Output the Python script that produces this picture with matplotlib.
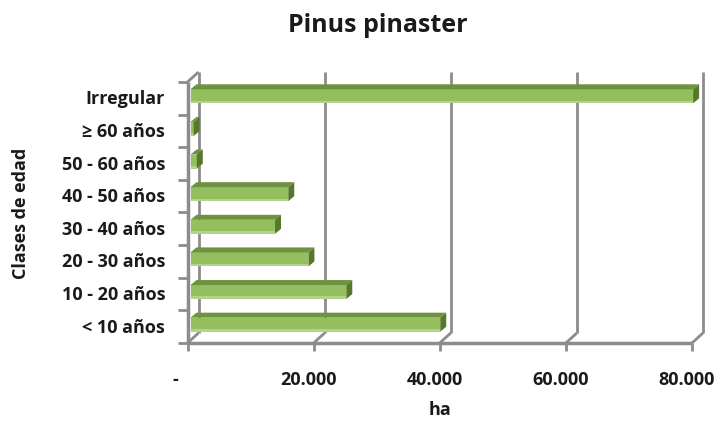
import matplotlib
matplotlib.use("Agg")
import matplotlib.pyplot as plt
from matplotlib.patches import Polygon
from matplotlib.transforms import ScaledTranslation

# age classes, bottom to top
clases = ["< 10 años", "10 - 20 años", "20 - 30 años", "30 - 40 años",
          "40 - 50 años", "50 - 60 años", "≥ 60 años", "Irregular"]
superficie = [39600, 24700, 18700, 13400, 15500, 1000, 500, 79700]
xticks = [0, 20000, 40000, 60000, 80000]
xticklabels = ["-", "20.000", "40.000", "60.000", "80.000"]

FACE = "#93bf5f"
TOP = "#6f9240"
SIDE = "#56782a"
GRID = "#8c8c8c"
INK = "#1a1a1a"
DPI = 100

plt.rcParams["font.family"] = ["Open Sans", "DejaVu Sans"]
plt.rcParams["font.weight"] = "bold"

fig = plt.figure(figsize=(7.21, 4.36), dpi=DPI)
# axes box = back wall of the pseudo-3D plot
ax = fig.add_axes([198.5 / 721, 103 / 436, 504.5 / 721, 261 / 436])
ax.set_xlim(0, 80000)
ax.set_ylim(-0.5, len(clases) - 0.5)
for s in ax.spines.values():
    s.set_visible(False)
ax.set_facecolor("none")


def shift(dx, dy):
    return ax.transData + ScaledTranslation(dx / DPI, dy / DPI, fig.dpi_scale_trans)


front = shift(-11, -10)   # front plane (axis lines, ticks)
bars_tr = shift(-8, -8)   # front face of the bars

y0, y1 = -0.5, len(clases) - 0.5

# back wall gridlines
for x in xticks:
    ax.plot([x, x], [y0, y1], color=GRID, lw=2, zorder=1,
            solid_capstyle="butt", clip_on=False)

# pixel -> data conversions for the depth effects
px_x = ax.transData.transform((1, 0))[0] - ax.transData.transform((0, 0))[0]
px_y = ax.transData.transform((0, 1))[1] - ax.transData.transform((0, 0))[1]
ddx, ddy = 6 / px_x, 5 / px_y
h = 0.43

ypos = list(range(len(clases)))
bars = ax.barh(ypos, superficie, height=h, color=FACE, transform=bars_tr,
               zorder=3, linewidth=0)
for b in bars:
    b.set_clip_on(False)
# light band at the bottom of each bar face
band = ax.barh([y - h / 2 + 0.04 for y in ypos], superficie, height=0.08,
               color="#b3d38c", transform=bars_tr, zorder=3, linewidth=0)
for b in band:
    b.set_clip_on(False)
for y, v in zip(ypos, superficie):
    top = y + h / 2
    bot = y - h / 2
    ax.add_patch(Polygon([(0, top), (v, top), (v + ddx, top + ddy), (ddx, top + ddy)],
                         closed=True, color=TOP, transform=bars_tr, zorder=3,
                         lw=0, clip_on=False))
    ax.add_patch(Polygon([(v, bot), (v + ddx, bot + ddy), (v + ddx, top + ddy), (v, top)],
                         closed=True, color=SIDE, transform=bars_tr, zorder=4,
                         lw=0, clip_on=False))

# front axis lines and ticks
line_kw = dict(color=GRID, transform=front, zorder=2, clip_on=False,
               solid_capstyle="butt")
ax.plot([0, 0], [y0, y1], lw=2.5, **line_kw)
ax.plot([0, 80000], [y0, y0], lw=2.5, **line_kw)
ax.tick_params(axis="both", length=0)
tick_x = 9 / px_x
for i in range(len(clases) + 1):
    ax.plot([-tick_x, 0], [y0 + i, y0 + i], lw=2, **line_kw)
tick_y = 8 / px_y
for x in xticks:
    ax.plot([x, x], [y0, y0 - tick_y], lw=2, **line_kw)
# slanted joins between the front and back planes
sx, sy = 11 / px_x, 10 / px_y
for x in xticks:
    ax.plot([x, x + sx], [y0, y0 + sy], lw=2, **line_kw)
ax.plot([0, sx], [y1, y1 + sy], lw=2, **line_kw)

# labels
ax.set_yticks(ypos)
ax.set_yticklabels(clases, fontsize=13, color=INK)
ax.set_xticks(xticks)
ax.set_xticklabels(xticklabels, fontsize=13, color=INK)
ax.tick_params(axis="y", pad=24)
ax.tick_params(axis="x", pad=27)
for lab in ax.get_yticklabels():
    lab.set_transform(lab.get_transform() + ScaledTranslation(0, -9 / DPI, fig.dpi_scale_trans))
for i, lab in enumerate(ax.get_xticklabels()):
    dx = -23 if i == 0 else -16
    lab.set_transform(lab.get_transform() + ScaledTranslation(dx / DPI, 0, fig.dpi_scale_trans))

fig.text(378 / 721, 1 - 32 / 436, "Pinus pinaster", ha="center", va="baseline",
         fontsize=18, weight="bold", color=INK)
fig.text(440 / 721, 1 - 410 / 436, "ha", ha="center", va="center",
         fontsize=13, weight="bold", color=INK)
fig.text(21 / 721, 1 - 213 / 436, "Clases de edad", ha="center", va="center",
         rotation=90, fontsize=13, weight="bold", color=INK)

fig.savefig("out.png", dpi=DPI, facecolor="white")
